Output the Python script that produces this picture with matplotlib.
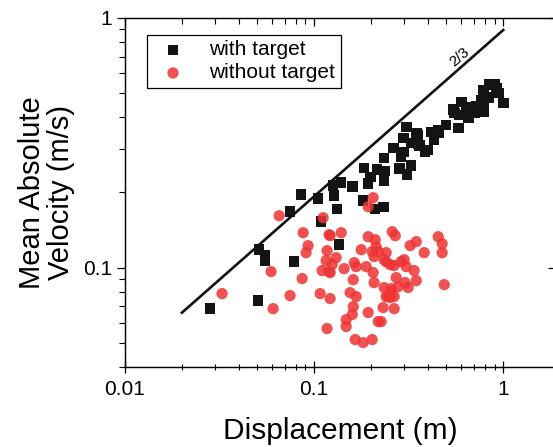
import matplotlib
matplotlib.use('Agg')
import matplotlib.pyplot as plt
from matplotlib.ticker import NullFormatter, LogLocator

plt.rcParams['font.family'] = ['Liberation Sans', 'DejaVu Sans']

# with target (black squares)
with_x = [0.0282, 0.0506, 0.0512, 0.0551, 0.0551, 0.0784, 0.0853, 0.0746, 0.105, 0.109,
          0.1356, 0.126, 0.1276, 0.1324, 0.139, 0.159, 0.1816, 0.184, 0.193, 0.198,
          0.210, 0.215, 0.232, 0.2346, 0.2375, 0.2346, 0.262, 0.282, 0.2885, 0.296,
          0.307, 0.310, 0.326, 0.334, 0.351, 0.355, 0.386, 0.416, 0.431, 0.453,
          0.499, 0.578, 0.551, 0.622, 0.703, 0.784,
          0.347, 0.326, 0.360, 0.401, 0.299, 0.453, 0.431, 0.544, 0.600, 0.585,
          0.637, 0.653, 0.719, 0.784, 0.765, 0.843, 0.918, 0.833, 0.941, 1.0,
          0.896, 0.793]
with_y = [0.0685, 0.0738, 0.118, 0.1117, 0.1067, 0.1057, 0.196, 0.1675, 0.189, 0.153,
          0.1236, 0.213, 0.194, 0.172, 0.219, 0.211, 0.1854, 0.251, 0.2168, 0.231,
          0.172, 0.247, 0.175, 0.275, 0.244, 0.223, 0.302, 0.249, 0.278, 0.331,
          0.366, 0.236, 0.256, 0.316, 0.340, 0.313, 0.291, 0.350, 0.334, 0.356,
          0.373, 0.363, 0.417, 0.409, 0.417, 0.421,
          0.344, 0.316, 0.308, 0.296, 0.291, 0.347, 0.325, 0.429, 0.461, 0.409,
          0.437, 0.398, 0.441, 0.515, 0.470, 0.540, 0.525, 0.479, 0.501, 0.457,
          0.540, 0.449]

# without target (red circles)
without_x = [0.0326, 0.0592, 0.0607, 0.0746, 0.0864, 0.0875, 0.0929, 0.0907, 0.1076, 0.1102,
             0.1171, 0.1157, 0.1215, 0.1215, 0.1215, 0.1307, 0.1245, 0.139, 0.1171, 0.144,
             0.1477, 0.1477, 0.159, 0.161, 0.155, 0.1668, 0.161, 0.163, 0.1648, 0.1816,
             0.2027, 0.1774, 0.193, 0.193, 0.1884, 0.2051, 0.2075, 0.2027, 0.2075, 0.2128,
             0.2104, 0.2183, 0.2344, 0.2317, 0.2404, 0.2404, 0.2466, 0.2523, 0.2553, 0.2649,
             0.2588, 0.2685, 0.2523, 0.2649, 0.2716, 0.278, 0.2884, 0.2992, 0.3069, 0.3141,
             0.3027, 0.3221, 0.3467, 0.338, 0.3467, 0.382, 0.4529, 0.4753, 0.4753, 0.4875,
             0.0653, 0.1116, 0.1200, 0.2051, 0.193, 0.226, 0.2344, 0.2649, 0.2553, 0.2404,
             0.2183, 0.1668, 0.12]
without_y = [0.0787, 0.0964, 0.0685, 0.0773, 0.0904, 0.138, 0.1225, 0.1148, 0.0787, 0.0973,
             0.1169, 0.1067, 0.0752, 0.0955, 0.1343, 0.1096, 0.1028, 0.138, 0.0570, 0.0991,
             0.0581, 0.0619, 0.0649, 0.0698, 0.0794, 0.0766, 0.0895, 0.1047, 0.0515, 0.0501,
             0.0515, 0.118, 0.0661, 0.133, 0.1009, 0.0955, 0.0871, 0.1159, 0.1107, 0.1213,
             0.1294, 0.0608, 0.0832, 0.0692, 0.1148, 0.1057, 0.0766, 0.0759, 0.0802, 0.0685,
             0.1393, 0.1343, 0.1028, 0.1019, 0.0912, 0.0839, 0.1057, 0.1076, 0.1009, 0.0832,
             0.0871, 0.1225, 0.1271, 0.0973, 0.0887, 0.1148, 0.133, 0.1247, 0.1148, 0.0855,
             0.1614, 0.1585, 0.1355, 0.1905, 0.1754, 0.0608, 0.1076, 0.0766, 0.0824, 0.0766,
             0.1159, 0.1009, 0.0964]

# 2/3 slope guide line
fit_x = [0.02, 1.0]
fit_y = [0.066, 0.895]

xticks = [0.01, 0.1, 1]
xtick_labels = ['0.01', '0.1', '1']
yticks = [0.1, 1]
ytick_labels = ['0.1', '1']

fig = plt.figure(figsize=(5.53, 4.47), dpi=100)
ax = fig.add_axes([0.226, 0.179, 0.7794, 0.7808])

ax.scatter(with_x, with_y, marker='s', s=58, color='#141414', edgecolors='none',
           label='with target', zorder=3)
ax.scatter(without_x, without_y, marker='o', s=66, color='#ee3434', alpha=0.85,
           edgecolors='none', label='without target', zorder=4)
ax.plot(fit_x, fit_y, color='#111111', lw=1.9, zorder=5)
ax.text(0.585, 0.698, '2/3', rotation=41, fontsize=11, ha='center', va='center')

ax.set_xscale('log')
ax.set_yscale('log')
ax.set_xlim(0.01, 1.9)
ax.set_ylim(0.04, 1)

ax.set_xticks(xticks, xtick_labels)
ax.set_yticks(yticks, ytick_labels)
ax.xaxis.set_minor_locator(LogLocator(base=10, subs=range(2, 10)))
ax.yaxis.set_minor_locator(LogLocator(base=10, subs=range(2, 10)))
ax.xaxis.set_minor_formatter(NullFormatter())
ax.yaxis.set_minor_formatter(NullFormatter())

ax.tick_params(axis='x', which='major', direction='inout', length=9, width=0.9,
               labelsize=15, pad=5)
ax.tick_params(axis='x', which='minor', direction='inout', length=5, width=0.8)
ax.tick_params(axis='y', which='major', direction='out', length=6, width=0.9,
               labelsize=15, pad=3)
ax.tick_params(axis='y', which='minor', direction='out', length=4, width=0.8)
for sp in ax.spines.values():
    sp.set_linewidth(0.9)

# top and right ticks pointing inward
axt = ax.twiny()
axt.set_xscale('log')
axt.set_xlim(ax.get_xlim())
axt.set_xticks(xticks)
axt.xaxis.set_minor_locator(LogLocator(base=10, subs=range(2, 10)))
axt.tick_params(axis='x', which='both', direction='in', labeltop=False)
axt.tick_params(axis='x', which='major', length=6, width=0.9)
axt.tick_params(axis='x', which='minor', length=4, width=0.8)
axt.xaxis.set_minor_formatter(NullFormatter())

axr = ax.twinx()
axr.set_yscale('log')
axr.set_ylim(ax.get_ylim())
axr.set_yticks(yticks)
axr.yaxis.set_minor_locator(LogLocator(base=10, subs=range(2, 10)))
axr.tick_params(axis='y', which='both', direction='in', labelright=False)
axr.tick_params(axis='y', which='major', length=6, width=0.9)
axr.tick_params(axis='y', which='minor', length=0, width=0)
axr.yaxis.set_minor_formatter(NullFormatter())

ax.set_xlabel('Displacement (m)', fontsize=21.5, labelpad=13)
ax.set_ylabel('Mean Absolute\nVelocity (m/s)', fontsize=21, labelpad=6, linespacing=1.05)

leg = ax.legend(loc='upper left', bbox_to_anchor=(0.051, 0.951), borderaxespad=0,
                fontsize=15, frameon=True, fancybox=False, edgecolor='black',
                framealpha=1, borderpad=0.25, labelspacing=0.2, handletextpad=0.75,
                handlelength=2.0)
leg.get_frame().set_linewidth(0.9)

fig.savefig('out.png', dpi=100)
